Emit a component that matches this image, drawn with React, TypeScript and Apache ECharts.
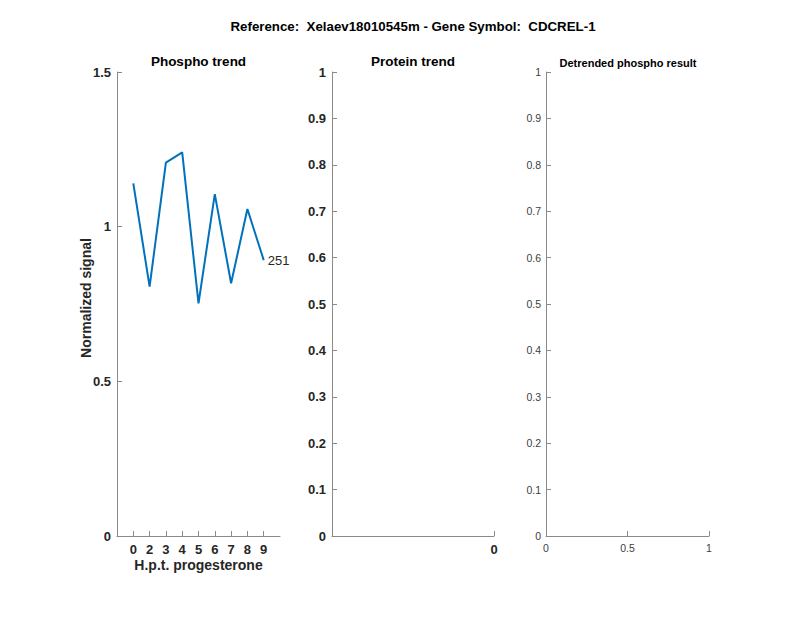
import React, { useEffect, useRef } from "react";
import * as echarts from "echarts";

const mainTitle = "Reference:  Xelaev18010545m - Gene Symbol:  CDCREL-1";
const panelTitles = ["Phospho trend", "Protein trend", "Detrended phospho result"];
const timeLabels = ["0", "2", "3", "4", "5", "6", "7", "8", "9"];
const timePositions = [1, 2, 3, 4, 5, 6, 7, 8, 9];
const phosphoValues = [1.14, 0.806, 1.207, 1.24, 0.752, 1.105, 0.817, 1.057, 0.892];
const phosphoId = "251";
const yLabelName = "Normalized signal";
const xLabelName = "H.p.t. progesterone";

const FONT = "Liberation Sans, Arial, Helvetica, sans-serif";
const AXIS_LINE = "#8a8a8a";
const TEXT = "#262626";

export default function App() {
  const ref = useRef<HTMLDivElement>(null);
  useEffect(() => {
    if (!ref.current) return;
    const chart = echarts.init(ref.current, undefined, { renderer: "svg" });
    const lineStyle = { color: AXIS_LINE, width: 1 };
    const axisLine = { show: true, onZero: false, lineStyle };
    const tick = { show: true, inside: true, length: 5, lineStyle };
    const boldLabel = { color: TEXT, fontFamily: FONT, fontWeight: "bold" as const, fontSize: 13, margin: 6 };
    const thinLabel = { color: "#404040", fontFamily: FONT, fontSize: 10.5, margin: 5 };

    const option: any = {
      animation: false,
      backgroundColor: "#ffffff",
      grid: [
        { left: 117, top: 72, width: 163, height: 464 },
        { left: 332, top: 72, width: 162, height: 464 },
        { left: 546, top: 72, width: 163, height: 464 },
      ],
      xAxis: [
        {
          gridIndex: 0, type: "value", min: 0, max: 10, interval: 1,
          axisLine, splitLine: { show: false },
          axisTick: { ...tick, customValues: timePositions },
          axisLabel: {
            ...boldLabel, margin: 7,
            customValues: timePositions,
            formatter: (v: number) => timeLabels[timePositions.indexOf(v)] ?? "",
          },
        },
        {
          gridIndex: 1, type: "value", min: -1, max: 0,
          axisLine, splitLine: { show: false },
          axisTick: { ...tick, customValues: [0] },
          axisLabel: { ...boldLabel, margin: 7, customValues: [0], formatter: (v: number) => String(v) },
        },
        {
          gridIndex: 2, type: "value", min: 0, max: 1, interval: 0.5,
          axisLine, splitLine: { show: false },
          axisTick: tick,
          axisLabel: { ...thinLabel, margin: 6, formatter: (v: number) => String(v) },
        },
      ],
      yAxis: [
        {
          gridIndex: 0, type: "value", min: 0, max: 1.5, interval: 0.5,
          axisLine, splitLine: { show: false },
          axisTick: tick,
          axisLabel: { ...boldLabel, formatter: (v: number) => String(v) },
        },
        {
          gridIndex: 1, type: "value", min: 0, max: 1, interval: 0.1,
          axisLine, splitLine: { show: false },
          axisTick: tick,
          axisLabel: { ...boldLabel, formatter: (v: number) => String(Math.round(v * 10) / 10) },
        },
        {
          gridIndex: 2, type: "value", min: 0, max: 1, interval: 0.1,
          axisLine, splitLine: { show: false },
          axisTick: tick,
          axisLabel: { ...thinLabel, formatter: (v: number) => String(Math.round(v * 10) / 10) },
        },
      ],
      graphic: [
        { type: "text", x: 413, y: 26, style: { text: mainTitle, align: "center", verticalAlign: "middle", fontFamily: FONT, fontWeight: "bold", fontSize: 13.3, fill: "#000" } },
        { type: "text", x: 198.5, y: 61, style: { text: panelTitles[0], align: "center", verticalAlign: "middle", fontFamily: FONT, fontWeight: "bold", fontSize: 13.5, fill: "#000" } },
        { type: "text", x: 413, y: 61, style: { text: panelTitles[1], align: "center", verticalAlign: "middle", fontFamily: FONT, fontWeight: "bold", fontSize: 13.5, fill: "#000" } },
        { type: "text", x: 628, y: 63, style: { text: panelTitles[2], align: "center", verticalAlign: "middle", fontFamily: FONT, fontWeight: "bold", fontSize: 11, fill: "#000" } },
        { type: "text", x: 198.5, y: 565, style: { text: xLabelName, align: "center", verticalAlign: "middle", fontFamily: FONT, fontWeight: "bold", fontSize: 14, fill: TEXT } },
        { type: "text", x: 86, y: 298, rotation: Math.PI / 2, style: { text: yLabelName, align: "center", verticalAlign: "middle", fontFamily: FONT, fontWeight: "bold", fontSize: 14, fill: TEXT } },
      ],
      series: [
        {
          type: "line", xAxisIndex: 0, yAxisIndex: 0,
          data: timePositions.map((x, i) => [x, phosphoValues[i]]),
          showSymbol: false, symbol: "none",
          lineStyle: { color: "#0072BD", width: 2 },
          itemStyle: { color: "#0072BD" },
          endLabel: { show: true, formatter: phosphoId, distance: 4, color: TEXT, fontFamily: FONT, fontSize: 13 },
        },
      ],
    };
    chart.setOption(option);
    return () => chart.dispose();
  }, []);
  return <div ref={ref} style={{ position: "fixed", left: 0, top: 0, width: 800, height: 618 }} />;
}
